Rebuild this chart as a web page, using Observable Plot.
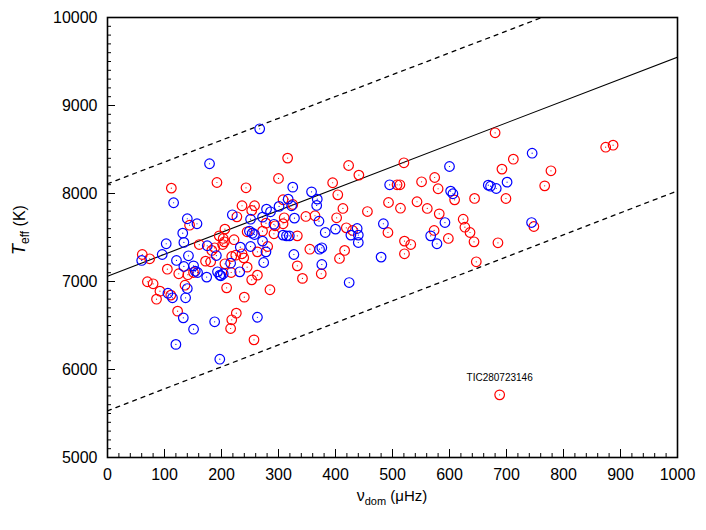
<!DOCTYPE html>
<html><head><meta charset="utf-8">
<script src="https://cdn.jsdelivr.net/npm/d3@7"></script>
<script src="https://cdn.jsdelivr.net/npm/@observablehq/plot@0.6"></script>
<style>body{margin:0;background:#fff;} svg{display:block;}</style>
</head><body><div id="chart"></div>
<script>
const redNu = [316,112,192,243,300,236,258,253,308,227,310,144,278,294,308,206,245,272,292,196,203,205,202,222,333,161,281,
  61,74,105,125,141,151,172,181,183,188,206,217,218,225,236,239,245,263,263,253,333,285,209,70,80,92,111,86,136,240,123,226,218,216,257,
  423,520,441,395,404,508,513,551,574,580,609,644,325,413,493,456,514,543,561,582,348,364,402,624,627,636,643,419,430,492,573,598,521,532,521,647,355,416,407,375,342,
  680,874,887,712,692,778,767,699,748,685,688];
const redTeff = [8402,8061,8125,8065,8171,7861,7861,7807,7929,7735,7724,7640,7663,7633,7656,7595,7565,7572,7542,7519,7489,7451,7420,7475,7519,7420,7398,
  7307,7258,7140,7088,7077,7102,7231,7224,7353,7383,7201,7102,7284,7299,7315,7269,7163,7337,7072,7019,7178,6906,6928,6997,6974,6890,6845,6799,6958,6822,6663,6640,6565,6466,6337,
  8318,8349,8209,8122,7985,8099,8099,8133,8182,8054,7928,7944,7875,7830,7898,7795,7833,7906,7830,7769,7739,7747,7724,7708,7617,7557,7451,7610,7580,7557,7580,7489,7459,7420,7315,7224,7367,7353,7262,7088,7035,
  8690,8526,8549,8390,8277,8258,8087,7943,7625,7440,5712];
const blueNu = [267,179,325,116,317,323,279,286,301,219,251,272,328,140,157,249,254,258,132,308,314,319,272,103,134,175,233,251,292,
  60,96,121,142,134,151,154,158,174,193,197,199,203,191,216,232,278,274,327,106,114,140,137,133,188,263,151,120,197,
  600,358,495,602,606,668,368,367,371,484,592,382,400,438,440,427,440,567,578,480,372,376,376,424,
  745,701,672,682,744];
const blueTeff = [8735,8338,8072,7895,7936,7861,7822,7792,7853,7758,7708,7731,7720,7713,7656,7572,7549,7534,7549,7527,7519,7519,7459,7429,7444,7406,7390,7398,7650,
  7239,7307,7239,7292,7171,7178,7117,7102,7050,7110,7072,7065,7088,7295,7208,7110,7337,7216,7307,6867,6815,6920,6815,6587,6542,6594,6458,6285,6117,
  8307,8019,8099,8027,7997,8095,7936,7864,7685,7656,7670,7557,7595,7602,7527,7527,7443,7519,7429,7277,7367,7383,7193,6988,
  8458,8129,8083,8057,7670];
const lineNu = [0, 1000];
const fitTeff = [7060, 9550];
const upperTeff = [8110, 10590];
const lowerTeff = [5530, 8030];
const xMajor = [0,100,200,300,400,500,600,700,800,900,1000];
const xMinor = d3.range(0, 1001, 20);
const yMajor = [5000,6000,7000,8000,9000,10000];
const yMinor = d3.range(5000, 10001, 100);
const labelStar = [{name: "TIC280723146", nu: 688, teff: 5712}];

const W = 706, H = 530, mL = 107, mR = 29, mT = 17, mB = 73;
const plotW = W - mL - mR, plotH = H - mT - mB;
const red = redNu.map((v, i) => ({nu: v, teff: redTeff[i]}));
const blue = blueNu.map((v, i) => ({nu: v, teff: blueTeff[i]}));
const mk = arr => lineNu.map((v, i) => ({nu: v, teff: arr[i]}));

const chart = Plot.plot({
  width: W, height: H, marginLeft: mL, marginRight: mR, marginTop: mT, marginBottom: mB,
  style: {fontFamily: "'Liberation Sans', Arial, sans-serif", fontSize: "16px", color: "#000", background: "#fff"},
  x: {domain: [0, 1000]},
  y: {domain: [5000, 10000]},
  marks: [
    Plot.line(mk(upperTeff), {x: "nu", y: "teff", stroke: "#000", strokeWidth: 1.3, strokeDasharray: "4,5", clip: true}),
    Plot.line(mk(lowerTeff), {x: "nu", y: "teff", stroke: "#000", strokeWidth: 1.3, strokeDasharray: "4,5", clip: true}),
    Plot.line(mk(fitTeff), {x: "nu", y: "teff", stroke: "#000", strokeWidth: 1.1, clip: true}),
    Plot.dot(red, {x: "nu", y: "teff", r: 4.8, stroke: "#f00", strokeWidth: 1.2}),
    Plot.dot(red, {x: "nu", y: "teff", r: 0.6, fill: "#f00"}),
    Plot.dot(blue, {x: "nu", y: "teff", r: 4.8, stroke: "#00f", strokeWidth: 1.2}),
    Plot.dot(blue, {x: "nu", y: "teff", r: 0.6, fill: "#00f"}),
    Plot.text(labelStar, {x: "nu", y: "teff", text: "name", dy: -17, fontSize: 10, fill: "#000"}),
    Plot.tickX(xMinor, {x: d => d, insetTop: plotH - 4, stroke: "#000", strokeWidth: 1}),
    Plot.tickX(xMajor, {x: d => d, insetTop: plotH - 8, stroke: "#000", strokeWidth: 1}),
    Plot.tickY(yMinor, {y: d => d, insetRight: plotW - 4, stroke: "#000", strokeWidth: 1}),
    Plot.tickY(yMajor, {y: d => d, insetRight: plotW - 8, stroke: "#000", strokeWidth: 1}),
    Plot.axisX(xMajor, {tickSize: 0, tickPadding: 11, label: null, fontSize: 16, tickFormat: d => String(d)}),
    Plot.axisY(yMajor, {tickSize: 0, tickPadding: 10, label: null, fontSize: 16, tickFormat: d => String(d)}),
    Plot.frame({stroke: "#000", strokeWidth: 1.6})
  ]
});
document.getElementById("chart").appendChild(chart);

const svg = d3.select(chart);
const yt = svg.append("text")
  .attr("transform", "translate(25,230) rotate(-90)")
  .attr("text-anchor", "middle").attr("fill", "#000");
yt.append("tspan").attr("font-style", "italic").attr("font-size", 18).text("T");
yt.append("tspan").attr("font-size", 12).attr("dy", 4).text("eff");
yt.append("tspan").attr("font-size", 16).attr("dy", -4).text(" (K)");

const xt = svg.append("text")
  .attr("transform", "translate(392,501)")
  .attr("text-anchor", "middle").attr("fill", "#000");
xt.append("tspan").attr("font-size", 16).text("ν");
xt.append("tspan").attr("font-size", 11).attr("dy", 4).text("dom");
xt.append("tspan").attr("font-size", 15).attr("dy", -4).text(" (μHz)");
</script>
</body></html>
